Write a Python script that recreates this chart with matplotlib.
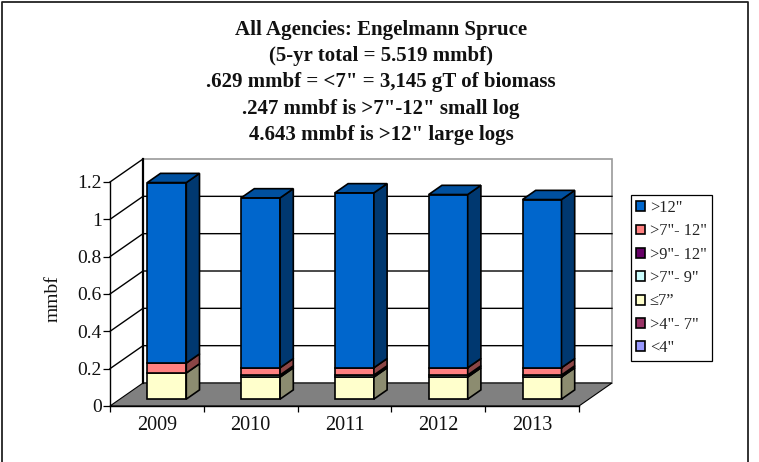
import matplotlib
matplotlib.use("Agg")
import matplotlib.pyplot as plt
from matplotlib.patches import Patch, Polygon
from matplotlib.lines import Line2D
import matplotlib.colors as mcolors
import numpy as np

plt.rcParams['font.family'] = ['Liberation Serif', 'DejaVu Serif']

years = ['2009', '2010', '2011', '2012', '2013']
under_4 = [0, 0, 0, 0, 0]
from_4_to_7 = [0, 0, 0, 0, 0]
under_7 = [0.14, 0.118, 0.118, 0.118, 0.118]
from_7_to_9 = [0, 0.011, 0.011, 0.011, 0.011]
from_9_to_12 = [0, 0, 0, 0, 0]
from_7_to_12 = [0.053, 0.039, 0.039, 0.039, 0.039]
over_12 = [0.967, 0.91, 0.937, 0.928, 0.901]

series = [under_4, from_4_to_7, under_7, from_7_to_9, from_9_to_12, from_7_to_12, over_12]
labels = ['<4"', '>4"- 7"', '≤7”', '>7"- 9"', '>9"- 12"', '>7"- 12"', '>12"']
colors = ['#9999FF', '#993366', '#FFFFCC', '#CCFFFF', '#660066', '#FF8080', '#0066CC']
y_ticks = [0, 0.2, 0.4, 0.6, 0.8, 1, 1.2]
y_tick_labels = ['0', '0.2', '0.4', '0.6', '0.8', '1', '1.2']
title_lines = ['All Agencies: Engelmann Spruce',
               '(5-yr total = 5.519 mmbf)',
               '.629 mmbf = <7" = 3,145 gT of biomass',
               '.247 mmbf is >7"-12" small log',
               '4.643 mmbf is >12" large logs']

W, H = 759, 462
fig = plt.figure(figsize=(W / 100, H / 100), dpi=100)
fig.patch.set_facecolor('white')

# outer frame, open at the bottom like the original crop
fig.add_artist(Line2D([2 / W, 2 / W, 748 / W, 748 / W], [0, 1 - 2 / H, 1 - 2 / H, 0],
                      color='#222222', lw=1.3))

# front plane of the fake 3d box
ax = fig.add_axes([110 / W, 1 - 406 / H, 469 / W, 224 / H])
ax.set_xlim(0, 5)
ax.set_ylim(0, 1.2)
ax.patch.set_visible(False)

depth_x = 33 / 93.8
depth_y = 23 / 186.7


def shift(x, y, d):
    return (x + d * depth_x, y + d * depth_y)


def add_poly(points, face, edge='black', lw=1.2, z=3):
    ax.add_patch(Polygon(points, closed=True, facecolor=face, edgecolor=edge,
                         lw=lw, zorder=z, clip_on=False, joinstyle='miter'))


def darker(color, k):
    return tuple(c * k for c in mcolors.to_rgb(color))


# walls and floor
add_poly([shift(0, 0, 1), shift(5, 0, 1), shift(5, 1.2, 1), shift(0, 1.2, 1)], 'white', '#999999', 1.2, 1)
add_poly([shift(0, 0, 0), shift(5, 0, 0), shift(5, 0, 1), shift(0, 0, 1)], '#808080', 'black', 0.8, 1)
for t in y_ticks[1:]:
    a = shift(0, t, 0)
    b = shift(0, t, 1)
    c = shift(5, t, 1)
    if t == 1.2:
        ax.plot([a[0], b[0]], [a[1], b[1]], color='black', lw=1.0, zorder=2, clip_on=False)
    else:
        ax.plot([a[0], b[0], c[0]], [a[1], b[1], c[1]], color='black', lw=1.0, zorder=2, clip_on=False)
a = shift(0, 0, 1)
b = shift(0, 1.2, 1)
ax.plot([a[0], b[0]], [a[1], b[1]], color='black', lw=1.6, zorder=2, clip_on=False)

# stacked columns, drawn with their depth faces
bar_w = 39 / 93.8
d0 = 0.3
d1 = 0.7
for i in range(len(years)):
    left = i + 0.5 - bar_w / 2
    right = left + bar_w
    bottom = 0
    for values, color in zip(series, colors):
        v = values[i]
        if v == 0:
            continue
        top = bottom + v
        add_poly([shift(left, bottom, d0), shift(right, bottom, d0),
                  shift(right, top, d0), shift(left, top, d0)], color, z=4)
        add_poly([shift(right, bottom, d0), shift(right, bottom, d1),
                  shift(right, top, d1), shift(right, top, d0)], darker(color, 0.55), z=4)
        bottom = top
    add_poly([shift(left, bottom, d0), shift(right, bottom, d0),
              shift(right, bottom, d1), shift(left, bottom, d1)], darker(colors[-1], 0.78), z=4)

# axes
for s in ['top', 'right']:
    ax.spines[s].set_visible(False)
for s in ['left', 'bottom']:
    ax.spines[s].set_linewidth(1.0)
    ax.spines[s].set_zorder(5)
ax.set_yticks(y_ticks)
ax.set_yticklabels(y_tick_labels, fontsize=14, color='#111111')
ax.set_xticks(range(6))
ax.set_xticklabels([])
ax.set_xticks(np.arange(5) + 0.5, labels=years, minor=True, fontsize=14.5, color='#111111')
ax.tick_params(axis='x', which='major', length=4, width=0.9)
ax.tick_params(axis='x', which='minor', length=0, pad=7)
ax.tick_params(axis='y', length=5, width=0.9, pad=1)
fig.text(53 / W, 1 - 299 / H, 'mmbf', rotation=90, ha='center', va='center', fontsize=14, color='#111111')

# title
title_y = [30, 56, 82, 109, 135]
for line, y in zip(title_lines, title_y):
    fig.text(381 / W, 1 - y / H, line, ha='center', va='center', fontsize=15, fontweight='bold', color='#111111')

# legend
handles = [Patch(facecolor=c, edgecolor='black', lw=1.2) for c in colors[::-1]]
leg = fig.legend(handles, labels[::-1], loc='upper left', bbox_to_anchor=(631 / W, 1 - 195 / H),
                 bbox_transform=fig.transFigure, fontsize=11.8, frameon=True, fancybox=False,
                 edgecolor='black', framealpha=1, handlelength=0.55, handleheight=0.55,
                 handletextpad=0.3, labelspacing=0.45, borderaxespad=0, borderpad=0.3,
                 labelcolor='#222222')
leg.get_frame().set_linewidth(0.9)

fig.savefig('out.png', dpi=100)
